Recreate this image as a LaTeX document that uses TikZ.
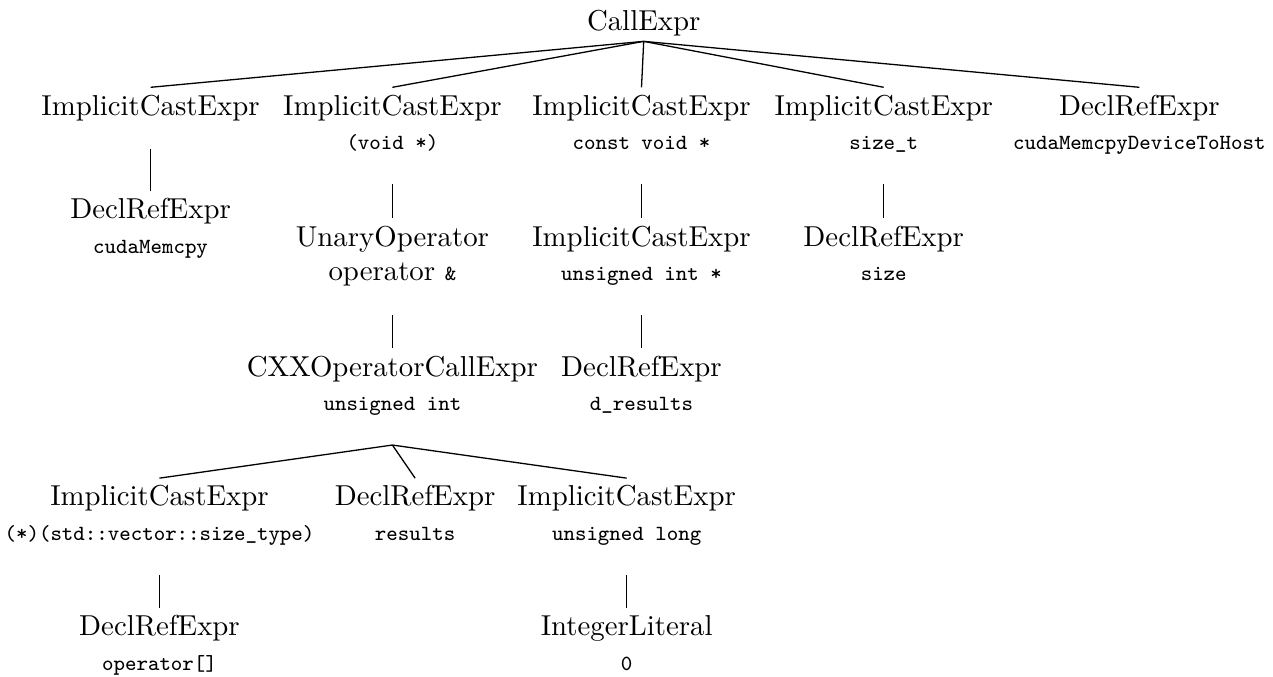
\documentclass[tikz,border=0pt]{standalone}
\usepackage{tikz}
\newcommand{\ctype}[1]{{\fontsize{7.5}{9}\selectfont\ttfamily #1}}
\tikzset{
  astbox/.style={
    align=center,
    inner sep=0pt,
    anchor=north
  },
  astnode/.style={
    astbox,
    outer ysep=2.6pt,
    execute at end node={\rule[-9.3pt]{0pt}{9.3pt}}
  },
  astroot/.style={
    astbox,
    outer ysep=1.8pt
  },
  astline/.style={
    draw=black,
    line width=0.45pt
  }
}
\begin{document}
\begin{tikzpicture}[x=1cm,y=1cm]
  \useasboundingbox (0,0) rectangle (15.53,-8.25);
  \node[astroot] (call) at (7.853,-0.062) {CallExpr};
  \node[astnode] (castFn) at (1.837,-1.065) {ImplicitCastExpr};
  \node[astnode] (castDst) at (4.787,-1.065) {ImplicitCastExpr\\\ctype{(void *)}};
  \node[astnode] (castSrc) at (7.826,-1.065) {ImplicitCastExpr\\\ctype{const void *}};
  \node[astnode] (castSize) at (10.781,-1.065) {ImplicitCastExpr\\\ctype{size\_t}};
  \node[astnode] (refKind) at (13.899,-1.065) {DeclRefExpr\\\ctype{cudaMemcpyDeviceToHost}};
  \node[astnode] (refFn) at (1.837,-2.331) {DeclRefExpr\\\ctype{cudaMemcpy}};
  \node[astnode] (unary) at (4.787,-2.664) {UnaryOperator\\operator \ctype{\&}};
  \node[astnode] (castPtr) at (7.826,-2.664) {ImplicitCastExpr\\\ctype{unsigned int *}};
  \node[astnode] (refSize) at (10.781,-2.664) {DeclRefExpr\\\ctype{size}};
  \node[astnode] (opCall) at (4.787,-4.250) {CXXOperatorCallExpr\\\ctype{unsigned int}};
  \node[astnode] (refDres) at (7.826,-4.250) {DeclRefExpr\\\ctype{d\_results}};
  \node[astnode] (castIdx) at (1.946,-5.833) {ImplicitCastExpr\\\ctype{(*)(std::vector::size\_type)}};
  \node[astnode] (refRes) at (5.064,-5.833) {DeclRefExpr\\\ctype{results}};
  \node[astnode] (castLit) at (7.645,-5.833) {ImplicitCastExpr\\\ctype{unsigned long}};
  \node[astnode] (refOp) at (1.946,-7.419) {DeclRefExpr\\\ctype{operator[]}};
  \node[astnode] (intLit) at (7.645,-7.419) {IntegerLiteral\\\ctype{0}};
  \foreach \kid in {castFn,castDst,castSrc,castSize,refKind}{\draw[astline] (call.south) -- (\kid.north);}
  \foreach \kid in {castIdx,refRes,castLit}{\draw[astline] (opCall.south) -- (\kid.north);}
  \draw[astline] (castFn.south) -- (refFn.north);
  \draw[astline] (castDst.south) -- (unary.north);
  \draw[astline] (unary.south) -- (opCall.north);
  \draw[astline] (castSrc.south) -- (castPtr.north);
  \draw[astline] (castPtr.south) -- (refDres.north);
  \draw[astline] (castSize.south) -- (refSize.north);
  \draw[astline] (castIdx.south) -- (refOp.north);
  \draw[astline] (castLit.south) -- (intLit.north);
\end{tikzpicture}
\end{document}
